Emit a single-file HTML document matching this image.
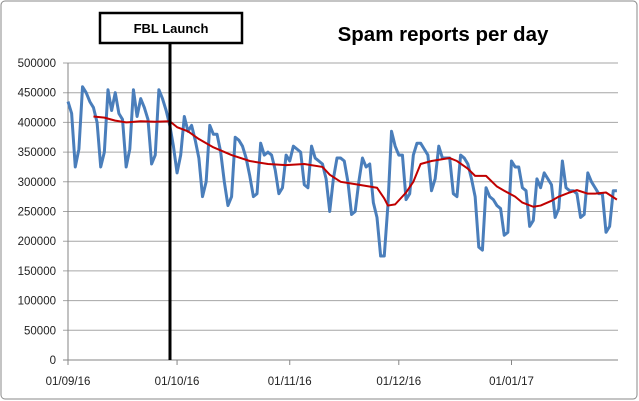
<!DOCTYPE html>
<html><head><meta charset="utf-8"><style>
body{margin:0;background:#fff}
svg{display:block;font-family:"Liberation Sans",sans-serif}
</style></head><body>
<svg id="c" width="639" height="401" viewBox="0 0 639 401">
<rect x="1" y="1" width="636" height="398" rx="4" fill="#fff" stroke="#8a8a8a"/>
<g id="grid"></g>
<g id="ylab"></g>
<g id="xlab"></g>
<g id="series"></g>
<text x="443" y="41" font-size="20.5" font-weight="bold" text-anchor="middle">Spam reports per day</text>
<line x1="170" y1="43" x2="170" y2="360" stroke="#000" stroke-width="3"/>
<rect x="100" y="13" width="142" height="30" fill="#fff" stroke="#000" stroke-width="2.5"/>
<text x="171" y="33" font-size="13" font-weight="bold" text-anchor="middle">FBL Launch</text>
</svg>
<script>
const yTicks=[0,50000,100000,150000,200000,250000,300000,350000,400000,450000,500000];
const xTickDays=[0,30,61,91,122];
const xTickLabels=["01/09/16","01/10/16","01/11/16","01/12/16","01/01/17"];
const daily=[435,415,325,355,460,450,435,425,400,325,350,455,420,450,415,405,325,355,455,410,440,425,405,330,345,455,440,420,395,360,315,345,410,385,395,370,340,275,300,395,380,380,350,300,260,275,375,370,360,340,310,275,280,365,345,350,345,320,280,290,345,335,360,355,350,295,290,360,340,335,330,305,250,305,340,340,335,300,245,250,300,340,325,330,265,240,175,175,260,385,360,345,345,270,280,345,365,365,355,345,285,305,360,340,340,340,280,275,345,340,330,305,275,190,185,290,275,270,260,255,210,215,335,325,325,290,285,225,235,305,290,315,305,295,240,255,335,290,285,285,280,240,245,315,300,290,280,280,215,225,285,285];
const avgDays=[7,10,13,16,20,24,28,30,33,36,40,45,50,55,60,65,70,72,75,80,85,87,88,90,93,95,97,100,105,107,110,112,115,118,120,123,125,128,130,133,135,138,140,143,145,148,151];
const avgVals=[410,408,403,400,402,401,402,392,385,372,358,345,335,330,328,330,325,312,300,295,290,272,260,262,282,300,330,335,340,335,322,310,310,292,285,275,265,258,260,268,275,282,286,280,280,282,270];
const X0=68,X1=618,Y0=360,Y1=63,DMAX=151.3,VMAX=500000;
const xs=d=>X0+d*(X1-X0)/DMAX, ys=v=>Y0-v*(Y0-Y1)/VMAX;
const NS="http://www.w3.org/2000/svg";
function mk(t,parent,at){const e=document.createElementNS(NS,t);for(const k in at)e.setAttribute(k,at[k]);parent.appendChild(e);return e;}
const grid=document.getElementById('grid'),ylab=document.getElementById('ylab'),xlab=document.getElementById('xlab'),ser=document.getElementById('series');
yTicks.forEach(v=>{
 const l=mk('line',grid,{x1:63,x2:X1,y1:ys(v),y2:ys(v),stroke:v===0?'#868686':'#a6a6a6','stroke-width':1});
 
 
 const t=mk('text',ylab,{x:56,y:ys(v)+4,'font-size':11.5,'text-anchor':'end',fill:'#222'});
 t.textContent=v;
 
 
});
const ax=mk('line',grid,{x1:X0,x2:X0,y1:Y1,y2:Y0+4,stroke:'#868686'});


xTickDays.forEach((d,i)=>{
 const tk=mk('line',grid,{x1:xs(d),x2:xs(d),y1:Y0,y2:Y0+5,stroke:'#868686'});
 
 
 const t=mk('text',xlab,{x:xs(d),y:385,'font-size':11.5,'text-anchor':'middle',fill:'#222'});
 t.textContent=xTickLabels[i];
 
 
});
const p1=mk('polyline',ser,{points:daily.map((v,i)=>xs(i)+','+ys(v*1000)).join(' '),fill:'none',stroke:'#4a7ebb','stroke-width':3,'stroke-linejoin':'round'});


const p2=mk('polyline',ser,{points:avgDays.map((d,i)=>xs(d)+','+ys(avgVals[i]*1000)).join(' '),fill:'none',stroke:'#c00000','stroke-width':2,'stroke-linejoin':'round'});


</script>
</body></html>
